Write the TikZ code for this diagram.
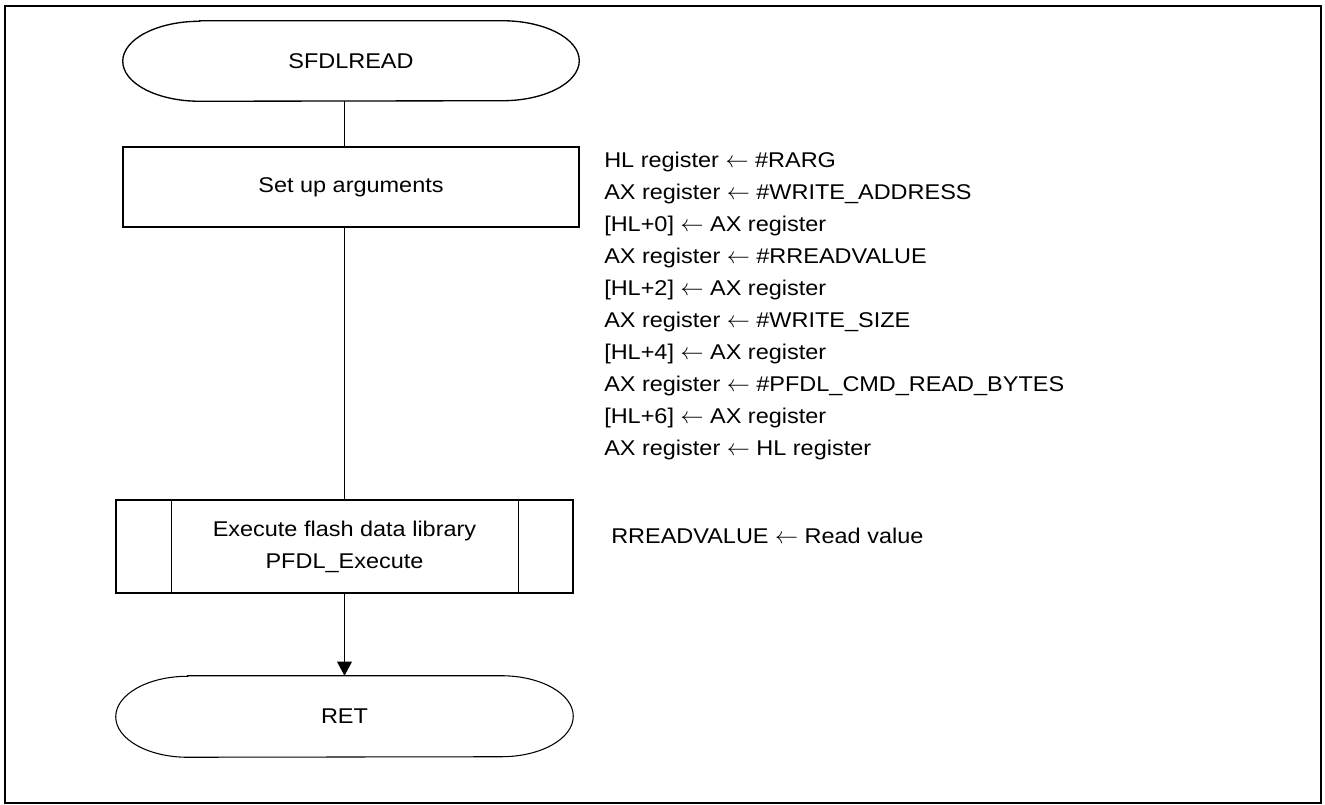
\documentclass[tikz,border=0pt]{standalone}
\usepackage{fontspec}
\setmainfont{Liberation Sans}[FakeStretch=1.1]
\usetikzlibrary{arrows.meta,calc}
\newcommand{\larr}{$\leftarrow$}
\tikzset{
  shape line/.style={draw=black, line width=1pt},
  box/.style={rectangle, shape line, inner sep=0pt, align=center},
  term/.style={rectangle, inner sep=0pt, align=center},
  lbl/.style={anchor=base west, inner sep=0pt},
  flow/.style={line width=1pt},
  arr/.style={line width=1pt, -{Triangle[length=10.5pt,width=11pt]}},
}
\begin{document}
\begin{tikzpicture}[x=0.75pt, y=-0.75pt, font=\fontsize{16pt}{24pt}\selectfont]
\useasboundingbox (0,0) rectangle (1325,805);
\draw[line width=1.6pt] (5,6) rectangle (1321,803);

% start terminal
\node[term, minimum width=456*0.75pt, minimum height=80*0.75pt] (start) at (351,61) {SFDLREAD};
\draw[shape line] ($(start.north west)+(77,0)$) -- ($(start.north east)+(-77,0)$)
  arc[start angle=90, end angle=-90, x radius=57.75pt, y radius=30pt]
  -- ($(start.south west)+(77,0)$)
  arc[start angle=270, end angle=90, x radius=57.75pt, y radius=30pt] -- cycle;

% set up box
\node[box, minimum width=456*0.75pt, minimum height=80*0.75pt] (setup) at (351,187) {Set up arguments};

% predefined process
\node[box, minimum width=457*0.75pt, minimum height=93*0.75pt, text depth=3pt] (exec) at (344.5,546.5)
  {Execute flash data library\\PFDL\_Execute};
\draw[shape line] ($(exec.north west)+(56,0)$) -- ($(exec.south west)+(56,0)$);
\draw[shape line] ($(exec.north east)+(-55,0)$) -- ($(exec.south east)+(-55,0)$);

% end terminal
\node[term, minimum width=457*0.75pt, minimum height=81*0.75pt] (ret) at (344.5,716.5) {RET};
\draw[line width=0.8pt] ($(ret.north west)+(72,0)$) -- ($(ret.north east)+(-72,0)$)
  arc[start angle=90, end angle=-90, x radius=54pt, y radius=30.375pt]
  -- ($(ret.south west)+(72,0)$)
  arc[start angle=270, end angle=90, x radius=54pt, y radius=30.375pt] -- cycle;

% connectors
\draw[flow] (start.south -| exec.center) -- (setup.north -| exec.center);
\draw[flow] (setup.south -| exec.center) -- (exec.north);
\draw[arr] (exec.south) -- (ret.north);

% annotations
\foreach \t [count=\i] in {
  {HL register \larr{} \#RARG},
  {AX register \larr{} \#WRITE\_ADDRESS},
  {[HL+0] \larr{} AX register},
  {AX register \larr{} \#RREADVALUE},
  {[HL+2] \larr{} AX register},
  {AX register \larr{} \#WRITE\_SIZE},
  {[HL+4] \larr{} AX register},
  {AX register \larr{} \#PFDL\_CMD\_READ\_BYTES},
  {[HL+6] \larr{} AX register},
  {AX register \larr{} HL register}}
  \node[lbl] (reg\i) at (604,{168+32*(\i-1)}) {\t};

\node[lbl] (readval) at (611,543) {RREADVALUE \larr{} Read value};
\end{tikzpicture}
\end{document}
